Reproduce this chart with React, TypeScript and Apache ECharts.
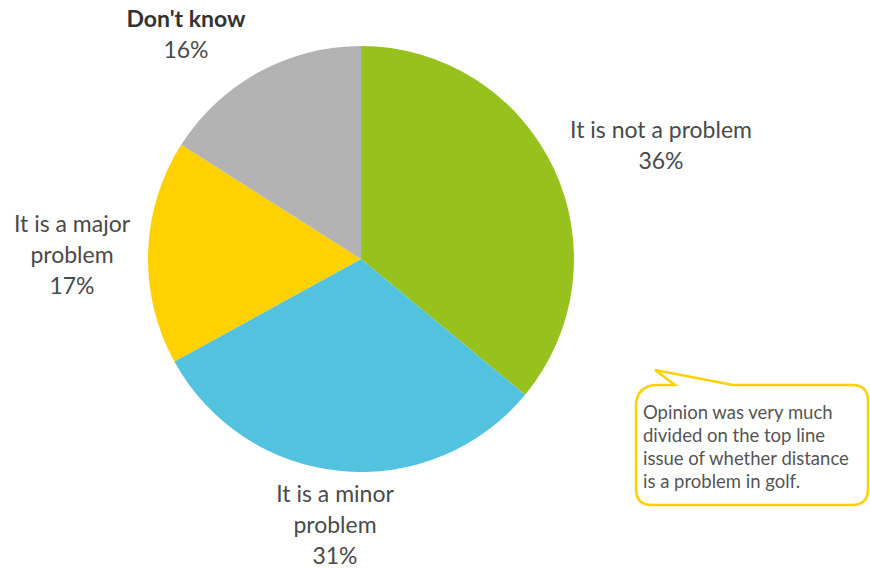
import React, { useEffect, useRef } from "react";
import * as echarts from "echarts";

const categories = ["It is not a problem", "It is a minor problem", "It is a major problem", "Don't know"];
const values = [36, 31, 17, 16];
const labelTexts = ["It is not a problem", "It is a minor\nproblem", "It is a major\nproblem", "Don't know"];
const colors = ["#97C21E", "#53C2DE", "#FFD100", "#B3B3B3"];
const labelPos = [
  [661, 113],
  [335, 477],
  [72, 207],
  [186, 3],
];
const calloutLines = [
  "Opinion was very much",
  "divided on the top line",
  "issue of whether distance",
  "is a problem in golf.",
];

const bubbleD =
  "M658,385 L675,385 L655,370 L733,385 L852,385 Q868,385 868,401 L868,489 Q868,505 852,505 L652,505 Q636,505 636,489 L636,407 Q636,385 658,385 Z";

let registered = false;

export default function App() {
  const ref = useRef<HTMLDivElement>(null);
  useEffect(() => {
    if (!ref.current) return;
    document.body.style.margin = "0";
    if (!registered) {
      echarts.graphic.registerShape("bubble", echarts.graphic.extendPath(bubbleD, {}) as any);
      registered = true;
    }
    const chart = echarts.init(ref.current, null, { renderer: "svg" });
    const font = "Lato";
    chart.setOption({
      animation: false,
      backgroundColor: "#fff",
      series: [
        {
          type: "pie",
          center: [361, 259],
          radius: 213,
          startAngle: 90,
          clockwise: true,
          data: categories.map((c, i) => ({
            name: c,
            value: values[i],
            itemStyle: { color: colors[i] },
          })),
          labelLine: { show: false },
          label: {
            show: true,
            position: "outside",
            align: "center",
            overflow: "none",
            formatter: (p: any) => {
              const t = labelTexts[p.dataIndex];
              if (p.dataIndex === 3) return `{b|${t}}\n{n|${p.value}%}`;
              return `{n|${t}\n${p.value}%}`;
            },
            rich: {
              b: { fontFamily: font, fontSize: 23, fontWeight: "bold", color: "#333", lineHeight: 30, align: "center" },
              n: { fontFamily: font, fontSize: 23, color: "#4a4a4a", lineHeight: 31, align: "center" },
            },
          },
          labelLayout: (params: any) => {
            const pos = labelPos[params.dataIndex];
            return { x: pos[0], y: pos[1], align: "center", verticalAlign: "top" };
          },
        },
      ],
      graphic: [
        {
          type: "bubble",
          x: 0,
          y: 0,
          shape: {},
          style: { fill: "#fff", stroke: "#FFD100", lineWidth: 2.5 },
        },
        {
          type: "text",
          x: 643,
          y: 400,
          style: {
            text: calloutLines.join("\n"),
            fontFamily: font,
            fontSize: 18.5,
            lineHeight: 23,
            fill: "#555",
          },
        },
      ],
    });
    return () => chart.dispose();
  }, []);
  return <div ref={ref} style={{ width: 870, height: 568 }} />;
}
